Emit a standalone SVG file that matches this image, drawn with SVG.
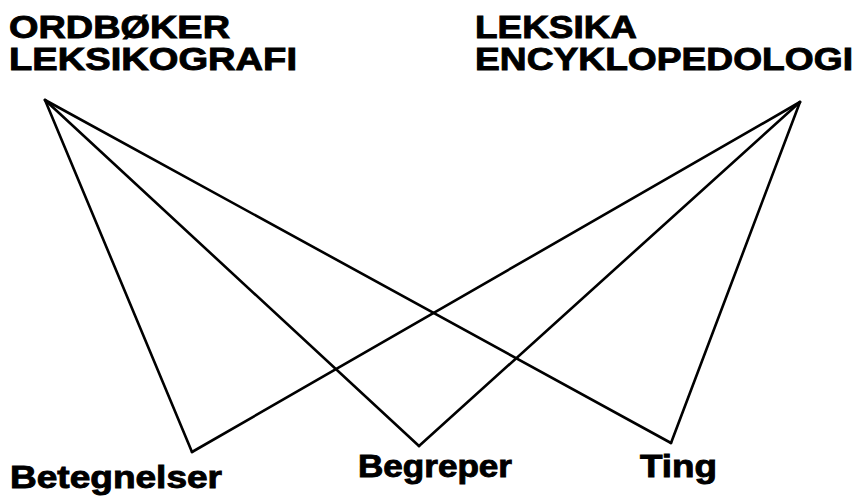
<svg xmlns="http://www.w3.org/2000/svg" width="859" height="497" viewBox="0 0 859 497">
<style>
.t{font-family:"Liberation Sans",Arial,sans-serif;font-weight:bold;font-size:31px;fill:#000;stroke:#000;stroke-width:0.9}
.c line{stroke:#000;stroke-width:2.6;stroke-linecap:round}
</style>
<rect width="859" height="497" fill="#fff"/>
<g class="c" id="connectors">
<line x1="45" y1="100" x2="192" y2="452"/>
<line x1="45" y1="100" x2="419" y2="446"/>
<line x1="45" y1="100" x2="671" y2="443"/>
<line x1="800" y1="102" x2="192" y2="452"/>
<line x1="800" y1="102" x2="419" y2="446"/>
<line x1="800" y1="102" x2="671" y2="443"/>
</g>
<g id="ordboker">
<text class="t" x="9" y="38" textLength="221" lengthAdjust="spacingAndGlyphs">ORDBØKER</text>
<text class="t" x="9" y="70" textLength="288" lengthAdjust="spacingAndGlyphs">LEKSIKOGRAFI</text>
</g>
<g id="leksika">
<text class="t" x="475" y="38" textLength="162" lengthAdjust="spacingAndGlyphs">LEKSIKA</text>
<text class="t" x="475" y="70" textLength="378" lengthAdjust="spacingAndGlyphs">ENCYKLOPEDOLOGI</text>
</g>
<g id="betegnelser">
<text class="t" x="10" y="488" textLength="212" lengthAdjust="spacingAndGlyphs">Betegnelser</text>
</g>
<g id="begreper">
<text class="t" x="358" y="477" textLength="154" lengthAdjust="spacingAndGlyphs">Begreper</text>
</g>
<g id="ting">
<text class="t" x="640" y="477" textLength="77" lengthAdjust="spacingAndGlyphs">Ting</text>
</g>
</svg>
